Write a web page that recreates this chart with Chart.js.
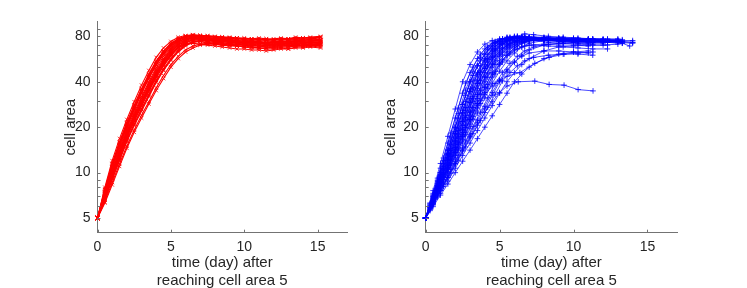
<!DOCTYPE html>
<html>
<head>
<meta charset="utf-8">
<script src="https://cdn.jsdelivr.net/npm/chart.js@4.4.1/dist/chart.umd.min.js"></script>
<style>
html, body { margin: 0; padding: 0; background: #fff; overflow: hidden; }
body { width: 747px; height: 288px; position: relative; }
canvas { position: absolute; top: 0; }
#left { left: 0; }
#right { left: 330px; }
</style>
</head>
<body>
<canvas id="left" width="365" height="300"></canvas>
<canvas id="right" width="417" height="300"></canvas>
<script>
// axes
const Y_TICKS = [5, 10, 20, 40, 80];
const Y_MINOR = [6, 7, 8, 9, 30, 50, 60, 70, 90];
const X_TICKS = [0, 5, 10, 15];
const X_TITLE = ['time (day) after', 'reaching cell area 5'];
const Y_TITLE = 'cell area';

// left panel: red, one shared time grid
const RED_T = [0,0.5,1,1.5,2,2.5,3,3.5,4,4.5,5,5.5,6,6.5,7,7.5,8,8.5,9,9.5,10,10.5,11,11.5,12,12.5,13,13.5,14,14.5,15.2];
const RED_SERIES = [
    [5,7.8,11.5,16,21.5,28,36,45,55,64,72,77,80,81,80,79,79,78,77,78,76,76,75,77,75,76,76,75,77,77,78],
    [5,7.6,11.2,15.5,21,27,35,44,54,63,71,76,79,80,80,79,77,77,78,76,76,75,76,75,74,75,76,76,75,77,76],
    [5,7.4,10.8,15,20,26,33.5,42,51.5,61,69,75,79,80,79,78,77,78,76,75,76,74,74,75,74,73,75,76,76,75,76],
    [5,7.3,10.5,14.5,19.5,25,32,40,49.5,59,67,74,78,79,79,77,77,76,77,75,74,75,73,73,74,74,73,74,75,74,75],
    [5,7.2,10.3,14,19,24,31,39,48,57,66,73,77,79,78,77,76,77,75,74,75,73,73,72,73,73,72,74,74,73,74],
    [5,7.1,10,13.7,18.5,23.5,30,37.5,46,55,64,71,76,78,78,76,76,75,74,74,73,73,72,72,71,72,73,72,73,74,73],
    [5,7,9.8,13.4,18,23,29,36.5,45,54,62,70,75,78,77,77,75,75,75,73,73,72,72,71,71,72,71,73,72,73,73],
    [5,6.9,9.6,13,17.5,22.5,28.5,35.5,44,52,61,68,74,77,77,75,75,74,73,73,72,71,71,71,70,71,72,71,72,72,73],
    [5,6.8,9.4,12.7,17,21.8,27.5,34.5,42.5,51,59,67,72,76,76,76,74,74,73,72,71,71,70,70,70,71,70,71,72,71,72],
    [5,6.7,9.2,12.4,16.5,21,26.5,33,41,49,57,65,71,74,75,75,74,72,72,71,71,70,69,70,69,70,70,71,70,71,71],
    [5,6.6,9,12,16,20.5,25.5,32,39.5,47.5,55.5,63,69,73,75,74,73,73,71,71,70,69,69,68,69,69,70,69,70,70,71],
    [5,6.4,8.6,11.4,15,19.2,24,29.5,36.5,44,52,59,65,69,71,72,72,71,70,69,69,68,67,67,68,68,68,69,69,70,69],
    [5,7.5,11,15.3,20.5,26.5,34,43,52.5,62,70,76,80,82,81,81,80,79,79,78,78,77,78,77,77,78,77,79,78,79,80],
    [5,7,9.9,13.5,18.2,23.3,29.5,37,45.5,54.5,63,70,74,75,74,72,71,70,69,69,68,67,67,66,66,67,66,68,68,69,68],
    [5,6.9,9.7,13.2,17.7,22.8,29,36,44.5,53,61,67,71,72,71,70,69,68,67,66,66,65,65,64,65,66,66,67,67,68,67],
    [5,7.7,11.4,15.8,21.3,27.7,35.7,44.5,54,63.5,71,77,80,81,81,80,79,79,78,78,77,77,76,76,76,77,77,77,78,78,79],
    [5,7.2,10.2,14,18.8,24.2,31,38.5,47,56,65,72,76,78,77,76,75,75,74,74,73,73,73,72,73,73,74,74,74,75,75],
    [5,6.8,9.5,12.9,17.3,22,28,35,43.3,51.5,60,68,73,76,76,75,74,74,73,73,72,72,72,71,71,72,72,72,73,73,73],
    [5,8,12,16.8,22.5,29.5,38,47.5,58,67,74,79,81,82,81,80,79,79,78,78,77,77,77,76,76,77,77,78,78,78,79],
    [5,6.3,8.3,11,14.5,18.5,23,28.5,35,42,50,57,63,67,70,71,71,70,70,69,68,68,67,67,67,68,68,69,69,69,70],
    [5,7.4,10.9,15.1,20.3,26.3,33.8,42.5,52,61,69,74,77,78,78,77,76,76,75,75,74,74,74,73,73,74,74,75,75,76,76],
    [5,6.6,9.1,12.2,16.3,20.8,26.2,32.5,40,48,56,64,70,73,74,73,72,71,71,70,70,69,69,68,68,69,69,70,70,71,71],
];

// right panel: blue, two time grids plus two odd tracks
const BLUE_T_A = [0,0.5,1,1.5,2,2.5,3,3.5,4,4.5,5,5.5,6,6.5,7,8,9,10,11,12,13,14];
const BLUE_SERIES_A = [
    [5,7.6,11.5,17.4,26.4,40,52,63,71,75,77,78,78,78,77,77,76,76,75,76,75],
    [5,7.3,10.7,15.7,23,33.6,46,57,66,72,76,78,79,78,78,77,77,76,76,75],
    [5,7.1,10,14.1,20,28.3,40,51,61,69,74,77,78,78,78,77,76,75,75,74,74,73],
    [5,7.1,10,14.1,20,28.3,40,51,61,69,75,79,80,80,79,79,78,78,77,77],
    [5,6.9,9.5,13.1,18.1,24.9,34.4,45,55,64,71,75,77,78,77,76,76,75,74],
    [5,6.9,9.5,13.1,18.1,24.9,34.4,45,56,66,73,77,79,79,78,78,77,77,76,76,77],
    [5,6.7,9,12.1,16.2,21.8,29.2,39,49,58,66,72,75,77,77,76,75,74,74,73],
    [5,6.7,9,12.1,16.2,21.8,29.2,39,49,59,68,74,78,79,79,78,78,77,77,76,76],
    [5,6.5,8.6,11.2,14.7,19.2,25.2,33,43,52,61,68,73,76,77,76,75,75,74],
    [5,6.5,8.6,11.2,14.7,19.2,25.2,33,43,53,62,70,75,77,78,78,77,76,76,75,75],
    [5,6.4,8.2,10.6,13.6,17.4,22.4,28.7,36.8,46,55,63,69,73,75,76,76,75,74,74,73,72],
    [5,6.4,8.2,10.6,13.6,17.4,22.4,28.7,36.8,45,53,60,65,68,70,71,70,70,69],
    [5,6.3,7.9,10,12.5,15.7,19.7,24.8,31.2,39.2,47,55,62,68,72,75,76,76,75,75],
    [5,6.2,7.6,9.3,11.5,14.1,17.4,21.4,26.4,32.5,40,47,54,60,65,70,72,73,73],
    [5,6.1,7.3,8.8,10.7,13,15.7,19,23,27.8,33.6,40,46,52,57,64,68,69,70,70,71],
    [5,5.95,7.1,8.4,10,11.9,14.1,16.8,20,23.8,28.3,33.6,40,45,50,57,61,63,64],
    [5,6.8,9.2,12.5,17,23,31,41,52,62,70,75,77,78,78,77,77,76,76,75,75,75],
    [5,6.4,8.4,10.9,14.2,18.4,24,31,40,50,59,66,71,74,75,75,74,73,72,72],
    [5,6.95,9.7,13.4,18.7,25.9,36,46,57,66,72,76,78,78,77,77,76,75,75,74,74],
    [5,6.6,8.8,11.7,15.5,20.5,27.2,36,46,56,64,70,74,76,77,76,76,75,75,74,74,73],
    [5,6.3,8,10.2,13,16.5,21,26.8,34,43,52,60,67,72,75,76,76,75,75,74],
    [5,6.2,7.7,9.5,11.8,14.6,18,22.3,27.5,34,41,48,54,59,62,64,64,63,62],
];
const BLUE_T_B = [0,0.3,0.8,1.2,1.7,2.2,2.7,3.2,3.7,4.2,4.7,5.2,5.7,6.2,6.7,7.3,8.3,9.3,10.3,11.3,12.3,13.3,13.8];
const BLUE_SERIES_B = [
    [5,6.3,9.2,12.5,18.3,26.8,39.2,50,61,69,74,77,79,80,80,79,78,78,77,77,76],
    [5,6.1,8.5,11,15.3,21.3,29.6,41,51,61,69,74,77,78,78,77,76,75,75,74,74,73],
    [5,5.9,7.9,9.9,13.1,17.4,23.1,30.8,40.9,51,60,67,72,75,76,76,75,75,74,73,73,72,69],
    [5,5.8,7.4,9,11.4,14.5,18.5,23.6,30.1,38.4,47,56,63,69,73,75,76,76,75,75,74,74],
    [5,5.7,7.1,8.4,10.5,13.1,16.2,20.2,25.2,31.3,38.9,46,53,59,64,68,71,72,72,71],
    [5,6,8.2,10.6,14.4,19.7,27,36.8,47,57,66,72,76,78,79,78,77,77,76,76,75],
    [5,5.9,7.6,9.4,12.2,15.9,20.7,27,35.1,45.6,55,63,69,73,75,75,73,72,71,70,70],
    [5,6.2,8.7,11.5,16.2,23,32.5,44,55,65,72,76,78,78,78,77,76,76,75,75],
    [5,5.6,6.9,8.1,9.9,12.1,14.8,18.1,22.1,27.1,33.1,40.5,46,51,55,58,60,61,61,60],
    [5,5.8,7.3,8.8,11.2,14.1,17.8,22.6,28.7,36.2,45,54,61,66,69,70,69,68,67,66,66],
    [5,6,7.9,10,13.5,18,24,32,43,54,64,71,76,80,83,82,80,79,78,77,77,76],
    [5,6.2,8.9,12,17.2,24.6,35.2,47,58,67,73,77,78,79,78,78,77,77,76,76,75,75],
    [5,5.9,7.8,9.7,12.8,16.9,22.4,29.7,39.2,50,59,66,71,74,76,76,75,74,74,73,73,72],
    [5,5.9,7.5,9.3,12,15.4,19.9,25.7,33.2,42.8,52,60,67,71,74,75,75,74,74,73],
    [5,6,8.1,10.4,14,19,25.9,35.3,46,56,65,71,75,77,78,77,77,76,76,75,75,74],
];
const STALL_T = [0,0.5,1,1.5,2,2.5,3,3.5,4,4.5,5,5.5,6.26,7.38,8.35,9.36,10.31,11.32];
const STALL_V = [5,6.2,7.6,9.3,11.4,13.9,17,20.6,25,29.5,34,37.5,40,40.4,38.4,38,35.5,34.8];
const LATE_T = [0,0.5,1,1.5,2,2.5,3,3.5,4,4.5,5,5.5,6.37,7.38,8.35,9.36,10.31,11.32];
const LATE_V = [5,6.5,8.4,10.8,13.9,17.8,22.6,28,33,37.5,41,43.5,46,53,58,61,62,63];

const FONT = 'Liberation Sans, Arial, Helvetica, sans-serif';
const TEXT_COLOR = '#262626';
const AXIS_COLOR = '#737373';

function toPoints(times, values) {
    return values.map(function (v, i) {
        return {x: times[i], y: v};
    });
}

function makeSet(times, values, color, marker, radius, width) {
    return {
        data: toPoints(times, values),
        borderColor: color,
        backgroundColor: color,
        borderWidth: width,
        pointStyle: marker,
        pointRadius: radius,
        pointBorderWidth: 0.8,
        pointBorderColor: color,
        clip: false,
    };
}

// matlab style ticks pointing into the plot
const inwardTicks = {
    id: 'inwardTicks',
    afterDatasetsDraw: function (chart) {
        let ctx = chart.ctx;
        let area = chart.chartArea;
        let x = chart.scales.x;
        let y = chart.scales.y;
        ctx.save();
        ctx.strokeStyle = AXIS_COLOR;
        ctx.lineWidth = 1;
        ctx.beginPath();
        Y_TICKS.concat(Y_MINOR).forEach(function (v) {
            let py = Math.round(y.getPixelForValue(v)) + 0.5;
            ctx.moveTo(area.left, py);
            ctx.lineTo(area.left + 3, py);
        });
        X_TICKS.forEach(function (v) {
            let px = Math.round(x.getPixelForValue(v)) + 0.5;
            ctx.moveTo(px, area.bottom);
            ctx.lineTo(px, area.bottom - 3);
        });
        ctx.stroke();
        ctx.restore();
    }
};

function buildChart(canvasId, datasets, box) {
    return new Chart(document.getElementById(canvasId), {
        type: 'line',
        data: {datasets: datasets},
        plugins: [inwardTicks],
        options: {
            responsive: false,
            animation: false,
            devicePixelRatio: 1,
            layout: {padding: {left: 0, right: box.right, top: 21.7, bottom: 0}},
            elements: {line: {tension: 0}},
            plugins: {legend: {display: false}, tooltip: {enabled: false}},
            scales: {
                x: {
                    type: 'linear',
                    min: 0,
                    max: 17,
                    afterBuildTicks: function (s) {
                        s.ticks = X_TICKS.map(function (v) { return {value: v}; });
                    },
                    afterFit: function (s) { s.height = 67.3; },
                    grid: {display: false, drawTicks: false},
                    border: {display: true, color: AXIS_COLOR, width: 1},
                    ticks: {color: TEXT_COLOR, font: {family: FONT, size: 14}, padding: 6, maxRotation: 0},
                    title: {
                        display: true,
                        text: X_TITLE,
                        color: TEXT_COLOR,
                        font: {family: FONT, size: 15, lineHeight: 1.16},
                        padding: {top: 0, bottom: 10.6}
                    }
                },
                y: {
                    type: 'logarithmic',
                    min: 4,
                    max: 100,
                    afterBuildTicks: function (s) {
                        s.ticks = Y_TICKS.map(function (v) { return {value: v}; });
                    },
                    afterFit: function (s) { s.width = box.left; },
                    grid: {display: false, drawTicks: false},
                    border: {display: true, color: AXIS_COLOR, width: 1},
                    ticks: {
                        color: TEXT_COLOR,
                        font: {family: FONT, size: 14},
                        padding: 7,
                        callback: function (v) { return String(v); }
                    },
                    title: {
                        display: true,
                        text: Y_TITLE,
                        color: TEXT_COLOR,
                        font: {family: FONT, size: 15},
                        padding: {top: box.titlePad, bottom: 0}
                    }
                }
            }
        }
    });
}

let redSets = RED_SERIES.map(function (vals) {
    return makeSet(RED_T, vals, 'rgb(255,0,0)', 'crossRot', 2.5, 1.1);
});

let blueSets = [];
BLUE_SERIES_A.forEach(function (vals) {
    blueSets.push(makeSet(BLUE_T_A, vals, 'rgb(0,0,255)', 'cross', 2.8, 0.7));
});
BLUE_SERIES_B.forEach(function (vals) {
    blueSets.push(makeSet(BLUE_T_B, vals, 'rgb(0,0,255)', 'cross', 2.8, 0.7));
});
blueSets.push(makeSet(STALL_T, STALL_V, 'rgb(0,0,255)', 'cross', 2.8, 0.7));
blueSets.push(makeSet(LATE_T, LATE_V, 'rgb(0,0,255)', 'cross', 2.8, 0.7));

buildChart('left', redSets, {left: 97.5, right: 18, titlePad: 62});
buildChart('right', blueSets, {left: 95.7, right: 70, titlePad: 52});
</script>
</body>
</html>
